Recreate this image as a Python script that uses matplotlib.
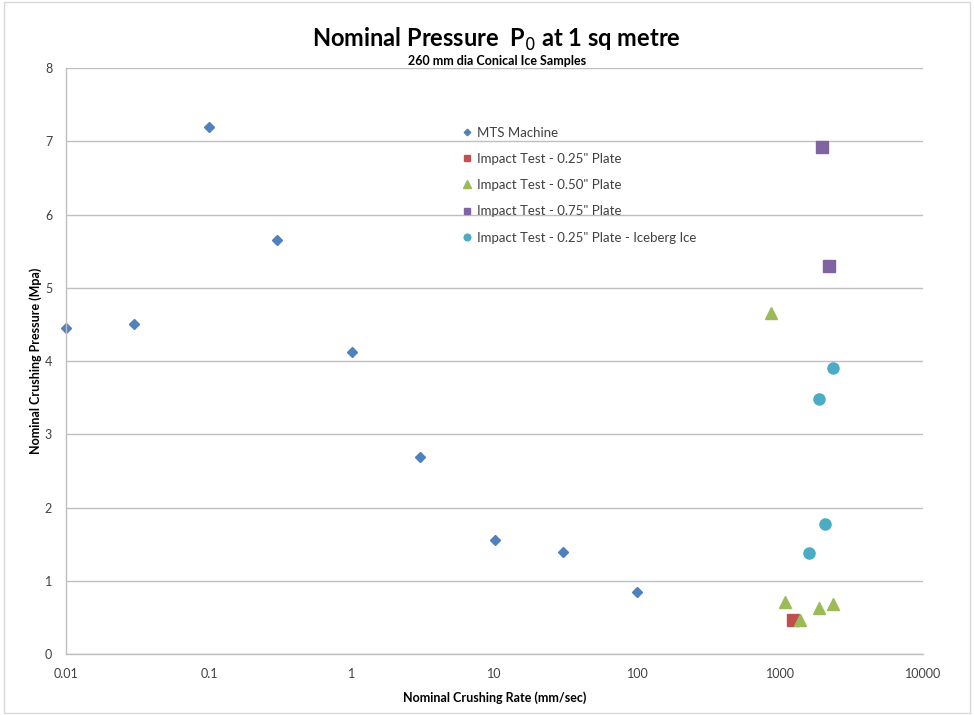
import matplotlib
matplotlib.use("Agg")
import matplotlib.pyplot as plt
from matplotlib.patches import Rectangle

plt.rcParams["font.family"] = ["Lato", "DejaVu Sans"]

# MTS machine tests
mts_rate = [0.01, 0.03, 0.1, 0.3, 1, 3, 10, 30, 100]
mts_pressure = [4.45, 4.51, 7.2, 5.65, 4.12, 2.69, 1.55, 1.39, 0.85]

# Impact tests
plate025_rate = [1230]
plate025_pressure = [0.46]

plate050_rate = [865, 1085, 1380, 1875, 2350]
plate050_pressure = [4.66, 0.71, 0.47, 0.63, 0.68]

plate075_rate = [1970, 2200]
plate075_pressure = [6.92, 5.30]

iceberg_rate = [2340, 1875, 2065, 1580]
iceberg_pressure = [3.90, 3.48, 1.77, 1.38]

x_ticks = [0.01, 0.1, 1, 10, 100, 1000, 10000]
x_labels = ["0.01", "0.1", "1", "10", "100", "1000", "10000"]

fig = plt.figure(figsize=(9.74, 7.15), dpi=100)
fig.patches.append(Rectangle((0.004, 0.003), 0.992, 0.994, transform=fig.transFigure,
                             fill=False, edgecolor="#d9d9d9", linewidth=1.0))
ax = fig.add_axes([0.0678, 0.0853, 0.880, 0.8196])

ax.plot(mts_rate, mts_pressure, linestyle="none", marker="D", markersize=5.5,
        color="#4F81BD", label="MTS Machine", clip_on=False)
ax.plot(plate025_rate, plate025_pressure, linestyle="none", marker="s", markersize=8,
        color="#C0504D", label='Impact Test - 0.25" Plate', clip_on=False)
ax.plot(plate050_rate, plate050_pressure, linestyle="none", marker="^", markersize=9,
        color="#9BBB59", label='Impact Test - 0.50" Plate', clip_on=False)
ax.plot(plate075_rate, plate075_pressure, linestyle="none", marker="s", markersize=8,
        color="#8064A2", label='Impact Test - 0.75" Plate', clip_on=False)
ax.plot(iceberg_rate, iceberg_pressure, linestyle="none", marker="o", markersize=8,
        color="#4BACC6", label='Impact Test - 0.25" Plate - Iceberg Ice', clip_on=False)

ax.set_xscale("log")
ax.set_xlim(0.01, 10000)
ax.set_ylim(0, 8)
ax.set_xticks(x_ticks)
ax.set_xticklabels(x_labels)
ax.minorticks_off()
ax.set_yticks(range(0, 9))
ax.tick_params(length=0, labelsize=9, colors="#404040", pad=10)
ax.grid(axis="y", color="#bfbfbf", linewidth=1.0)
ax.set_axisbelow(True)
for side in ("top", "right"):
    ax.spines[side].set_visible(False)
for side in ("left", "bottom"):
    ax.spines[side].set_color("#bfbfbf")
    ax.spines[side].set_linewidth(1.0)

ax.set_xlabel("Nominal Crushing Rate (mm/sec)", fontsize=9, fontweight="bold", labelpad=8)
ax.set_ylabel("Nominal Crushing Pressure (Mpa)", fontsize=9, fontweight="bold", labelpad=2)

fig.text(0.51, 0.945, "Nominal Pressure  P$_0$ at 1 sq metre", ha="center", va="center",
         fontsize=17, fontweight="bold")
fig.text(0.51, 0.915, "260 mm dia Conical Ice Samples", ha="center", va="center",
         fontsize=9, fontweight="bold")

leg = ax.legend(loc="upper left", bbox_to_anchor=(0.456, 0.909), frameon=False,
                fontsize=9.5, markerscale=0.6, handlelength=0.8, handletextpad=0.3,
                labelspacing=1.08, borderaxespad=0)
for text in leg.get_texts():
    text.set_color("#404040")

fig.savefig("out.png", dpi=100, facecolor="white")
